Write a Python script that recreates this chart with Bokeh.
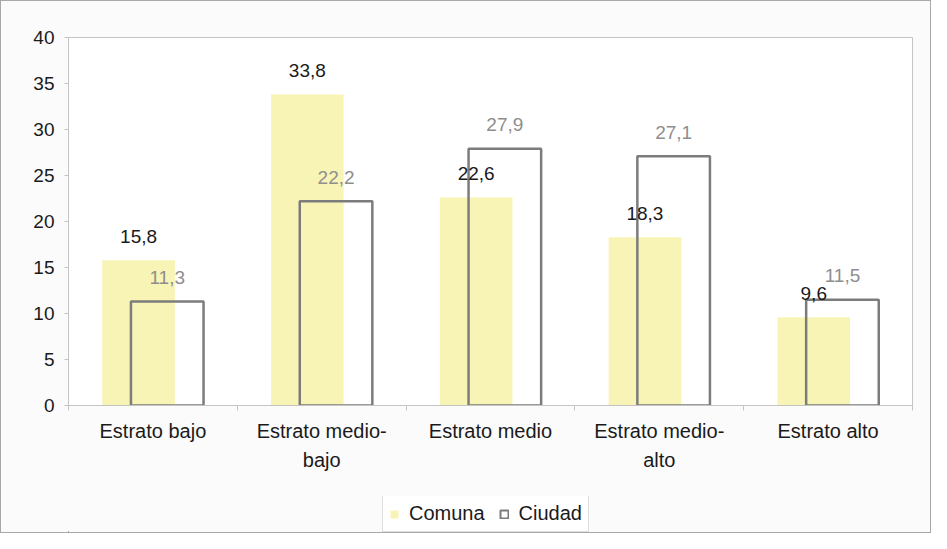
import numpy as np
from bokeh.plotting import figure
from bokeh.layouts import column
from bokeh.models import Range1d, FixedTicker, ColumnDataSource, Legend, LegendItem, LinearAxis
from bokeh.core.properties import value
from bokeh.embed import file_html
from bokeh.resources import INLINE

categories = ["Estrato bajo", "Estrato medio-bajo", "Estrato medio", "Estrato medio-alto", "Estrato alto"]
tick_labels = ["Estrato bajo", "Estrato medio-\nbajo", "Estrato medio", "Estrato medio-\nalto", "Estrato alto"]
comuna = [15.8, 33.8, 22.6, 18.3, 9.6]
ciudad = [11.3, 22.2, 27.9, 27.1, 11.5]
y_ticks = [0, 5, 10, 15, 20, 25, 30, 35, 40]
series_names = ["Comuna", "Ciudad"]

FONT = "Liberation Sans"
BG = "#fbfbfb"
COM_FILL = "#f8f4b6"
CIU_LINE = "#7c7c7c"
n = len(categories)
centers = np.arange(n) + 0.5
off = 0.085
bw = 0.43

def fmt(v):
    return f"{v:.1f}".replace(".", ",")

src_com = ColumnDataSource(dict(x=centers - off, top=comuna, lab=[fmt(v) for v in comuna]))
src_ciu = ColumnDataSource(dict(x=centers + off, top=ciudad, lab=[fmt(v) for v in ciudad]))

p = figure(width=929, height=495, output_backend="svg", toolbar_location=None,
           x_range=Range1d(0, n), y_range=Range1d(0, 40),
           min_border_left=67, min_border_right=18, min_border_top=36, min_border_bottom=91,
           x_axis_type=None, y_axis_type=None)
p.border_fill_color = BG
p.background_fill_color = "white"
p.outline_line_color = "#c4c4c4"
p.outline_line_width = 1

yaxis = LinearAxis(ticker=FixedTicker(ticks=y_ticks))
yaxis.axis_line_color = "#c4c4c4"
yaxis.major_tick_line_color = "#c4c4c4"
yaxis.major_tick_out = 4
yaxis.major_tick_in = 0
yaxis.minor_tick_out = 0
yaxis.minor_tick_in = 0
yaxis.major_label_text_font = FONT
yaxis.major_label_text_font_size = "19px"
yaxis.major_label_text_color = "#1a1a1a"
yaxis.major_label_standoff = 10
p.add_layout(yaxis, "left")

xaxis = LinearAxis(ticker=FixedTicker(ticks=list(centers), minor_ticks=list(range(n + 1))))
xaxis.major_label_overrides = {float(c): t for c, t in zip(centers, tick_labels)}
xaxis.axis_line_color = "#c4c4c4"
xaxis.major_tick_out = 0
xaxis.major_tick_in = 0
xaxis.minor_tick_out = 5
xaxis.minor_tick_in = 0
xaxis.minor_tick_line_color = "#c4c4c4"
xaxis.major_label_text_font = FONT
xaxis.major_label_text_font_size = "20px"
xaxis.major_label_text_color = "#1a1a1a"
xaxis.major_label_text_line_height = 1.35
xaxis.major_label_standoff = 9
p.add_layout(xaxis, "below")

p.ygrid.ticker = FixedTicker(ticks=y_ticks)
p.ygrid.grid_line_color = "#d4d4d4"
p.xgrid.grid_line_color = None

p.vbar(x="x", top="top", width=bw, bottom=0, source=src_com,
       fill_color=COM_FILL, line_color=None)
p.vbar(x="x", top="top", width=bw, bottom=0, source=src_ciu,
       fill_color=None, line_color=CIU_LINE, line_width=2.5)

p.text(x="x", y="top", text="lab", source=src_ciu, text_align="center", text_baseline="middle",
       y_offset=-24, text_font=value(FONT), text_font_size="19px", text_color="#8e8e8e")
p.text(x="x", y="top", text="lab", source=src_com, text_align="center", text_baseline="middle",
       y_offset=-24, text_font=value(FONT), text_font_size="19px", text_color="#1a1a1a")

# legend strip: series renderers lie far outside its visible ranges; only their legend keys show
pl = figure(width=929, height=36, output_backend="svg", toolbar_location=None,
            x_range=Range1d(1000, 1001), y_range=Range1d(1000, 1001),
            min_border=0, x_axis_type=None, y_axis_type=None)
pl.border_fill_color = BG
pl.background_fill_color = BG
pl.outline_line_color = None
pl.xgrid.visible = False
pl.ygrid.visible = False
l_com = pl.vbar(x="x", top="top", width=bw, bottom=0, source=src_com,
                fill_color=COM_FILL, line_color=None)
l_ciu = pl.vbar(x="x", top="top", width=bw, bottom=0, source=src_ciu,
                fill_color=None, line_color=CIU_LINE, line_width=2)

legend = Legend(items=[LegendItem(label=series_names[0], renderers=[l_com], index=0),
                       LegendItem(label=series_names[1], renderers=[l_ciu], index=0)],
                orientation="horizontal", location=(314, 0))
legend.glyph_width = 10
legend.glyph_height = 10
legend.label_text_font = FONT
legend.label_text_font_size = "20px"
legend.label_text_color = "#1a1a1a"
legend.label_standoff = 10
legend.spacing = 14
legend.padding = 6
legend.margin = 0
legend.border_line_color = "#bcbcbc"
legend.background_fill_color = "white"
pl.add_layout(legend, "center")

layout = column(p, pl, spacing=0, styles={"border": "1px solid #a8a8a8", "background-color": BG})

open("out.html", "w").write(file_html(layout, INLINE))
